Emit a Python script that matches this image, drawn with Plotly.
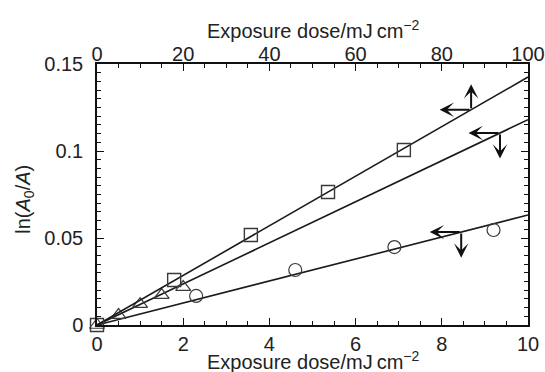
import numpy as np
import plotly.graph_objects as go

# ---- data ----
sq_dose_top = [0, 17.9, 35.7, 53.6, 71.2]          # top axis (0-100 mJ/cm2)
sq_ln = [0.0, 0.0259, 0.0517, 0.0764, 0.1006]

tri_dose = [0, 0.5, 1.0, 1.5, 2.0]                 # bottom axis (0-10 mJ/cm2)
tri_ln = [0.0, 0.0057, 0.0120, 0.0172, 0.0218]

circ_dose = [2.3, 4.6, 6.9, 9.2]                   # bottom axis
circ_ln = [0.0167, 0.0316, 0.0448, 0.0546]

# fitted lines through origin (slopes)
slope_top_sq = 0.001425      # per top-axis unit
slope_tri = 0.0118           # per bottom-axis unit
slope_circ = 0.00632         # per bottom-axis unit

x_bottom_ticks = [0, 2, 4, 6, 8, 10]
x_top_ticks = [0, 20, 40, 60, 80, 100]
y_ticks = [0, 0.05, 0.1, 0.15]
y_ticktext = ["0", "0.05", "0.1", "0.15"]

# arrow junctions: (x on bottom axis scale, which line slope)
arrow_junction_x = [8.68, 9.35, 8.45]
arrow_slopes = [slope_top_sq * 10, slope_tri, slope_circ]
arrow_vertical = ["up", "down", "down"]

FONT = "Liberation Sans, Arial, Helvetica, sans-serif"
LINE_C = "#1a1a1a"
MARK_C = "#3a3a3a"

fig = go.Figure()

# lines
xb = np.array([0, 10])
xt = np.array([0, 100])
fig.add_trace(go.Scatter(x=xt, y=slope_top_sq * xt, mode="lines", xaxis="x2", yaxis="y",
                         line=dict(color=LINE_C, width=1.6), showlegend=False))
fig.add_trace(go.Scatter(x=xb, y=slope_tri * xb, mode="lines",
                         line=dict(color=LINE_C, width=1.6), showlegend=False))
fig.add_trace(go.Scatter(x=xb, y=slope_circ * xb, mode="lines",
                         line=dict(color=LINE_C, width=1.6), showlegend=False))

# markers
fig.add_trace(go.Scatter(x=sq_dose_top, y=sq_ln, mode="markers", xaxis="x2", yaxis="y",
                         marker=dict(symbol="square-open", size=13, color=MARK_C, line=dict(width=1.4)),
                         showlegend=False, cliponaxis=False))
fig.add_trace(go.Scatter(x=tri_dose, y=tri_ln, mode="markers",
                         marker=dict(symbol="triangle-up-open", size=13, color=MARK_C, line=dict(width=1.2)),
                         showlegend=False, cliponaxis=False))
fig.add_trace(go.Scatter(x=circ_dose, y=circ_ln, mode="markers",
                         marker=dict(symbol="circle-open", size=13, color=MARK_C, line=dict(width=1.2)),
                         showlegend=False, cliponaxis=False))

# arrows
annotations = []
dx_left = 0.73      # bottom-axis units
dy_vert = 0.0147    # y units
for jx, s, v in zip(arrow_junction_x, arrow_slopes, arrow_vertical):
    jy = s * jx
    common = dict(xref="x", yref="y", axref="x", ayref="y", text="", showarrow=True,
                  arrowhead=3, arrowsize=1.2, arrowwidth=2, arrowcolor="#111", standoff=0)
    annotations.append(dict(x=jx - dx_left, y=jy, ax=jx, ay=jy, **common))
    ty = jy + dy_vert if v == "up" else jy - dy_vert
    annotations.append(dict(x=jx, y=ty, ax=jx, ay=jy, **common))

# axis titles
title_txt = "Exposure dose/mJ\u2009cm<sup>\u22122</sup>"
annotations.append(dict(text=title_txt, xref="paper", yref="paper", x=0.5, y=-0.136,
                        xanchor="center", yanchor="middle", showarrow=False,
                        font=dict(family=FONT, size=20, color="#222")))
annotations.append(dict(text=title_txt, xref="paper", yref="paper", x=0.5, y=1.134,
                        xanchor="center", yanchor="middle", showarrow=False,
                        font=dict(family=FONT, size=20, color="#222")))
annotations.append(dict(text="ln(<i>A</i><sub>0</sub>/<i>A</i>)", xref="paper", yref="paper",
                        x=-0.167, y=0.48, xanchor="center", yanchor="middle", textangle=-90,
                        showarrow=False, font=dict(family=FONT, size=20, color="#222")))

axis_common = dict(showline=True, linecolor="#111", linewidth=1.5, showgrid=False, zeroline=False,
                   ticks="inside", ticklen=7, tickwidth=1.3, tickcolor="#111", automargin=False,
                   tickfont=dict(family=FONT, size=20, color="#222"))

fig.update_layout(
    width=545, height=372, autosize=False,
    margin=dict(l=97, r=17, t=64, b=47, pad=0),
    paper_bgcolor="white", plot_bgcolor="white",
    xaxis=dict(range=[0, 10], tickvals=x_bottom_ticks, side="bottom",
               minor=dict(dtick=0.5, ticks="inside", ticklen=4, tickwidth=1.2, tickcolor="#111"),
               ticklabelstandoff=0, **axis_common),
    xaxis2=dict(range=[0, 100], tickvals=x_top_ticks, side="top", overlaying="x", anchor="y",
                minor=dict(dtick=5, ticks="inside", ticklen=4, tickwidth=1.2, tickcolor="#111"),
                ticklabelstandoff=-7, **axis_common),
    yaxis=dict(range=[0, 0.15], tickvals=y_ticks, ticktext=y_ticktext, mirror="ticks",
               minor=dict(dtick=0.005, ticks="inside", ticklen=4, tickwidth=1.2, tickcolor="#111"),
               ticklabelstandoff=8, **axis_common),
    annotations=annotations,
    showlegend=False,
)

fig.write_html("out.html")
